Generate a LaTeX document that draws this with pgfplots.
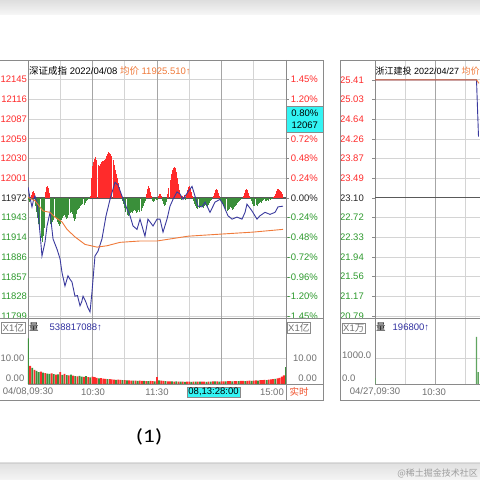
\documentclass[border=0pt]{standalone}
\usepackage{fontspec}
\setmainfont{Liberation Sans}
\newfontfamily\cjk{Noto Sans CJK SC}
\newfontfamily\calib{Carlito}
\usepackage{pgfplots}
\pgfplotsset{compat=1.18}
\usepackage{pgfplotstable}

\definecolor{pred}{HTML}{FF2B2B}
\definecolor{pgreen}{HTML}{2E9A2E}
\definecolor{bgreen}{HTML}{3A8F3A}
\definecolor{pblue}{HTML}{3A3A9E}
\definecolor{porange}{HTML}{F07A3A}
\definecolor{gridl}{HTML}{D4D4D4}
\definecolor{gridd}{HTML}{A6A6A6}
\definecolor{frm}{HTML}{8A8A8A}
\definecolor{cyanbox}{HTML}{33F4F4}
\definecolor{lbl}{HTML}{707070}
\definecolor{vblue}{HTML}{3030A0}
\definecolor{ssred}{HTML}{F0502A}

\newcommand{\fs}{\fontsize{9.5}{10}\selectfont}

% price (Shenzhen component index), minutes from 09:30
\pgfplotstableread[row sep=\\]{
t p\\
0 11988\\ 1.5 11975\\ 3.7 11959\\ 5 11968\\ 6.5 11975\\ 8.4 11966\\ 10 11940\\ 11.5 11915\\ 13 11887\\ 15.8 11907\\
17.7 11931\\ 20.5 11951\\ 23.3 11912\\ 25 11905\\ 27 11897\\ 29.8 11883\\ 31.6 11863\\ 34.4 11843\\ 37.2 11858\\ 39 11853\\
40.9 11849\\ 43.7 11828\\ 46 11829\\ 48.4 11814\\ 50 11820\\ 51.2 11828\\ 54 11819\\ 55.5 11812\\ 57.7 11805\\ 59.5 11834\\
62.3 11887\\ 65.1 11894\\ 68.8 11912\\ 72.6 11946\\ 76.3 11970\\ 80.9 11995\\ 83.7 11991\\ 87.4 11975\\ 92.1 11956\\ 94.9 11946\\
97.7 11931\\ 101.4 11926\\ 104.2 11941\\ 108.8 11916\\ 111.6 11941\\ 116.3 11931\\ 120 11941\\ 122.8 11941\\ 125.6 11922\\ 129.3 11941\\
132.1 11960\\ 134.9 11970\\ 138.6 11981\\ 141.4 11978\\ 144.2 11970\\ 148.8 11981\\ 152.6 11989\\ 155.3 11975\\ 158.1 11960\\ 161.9 11959\\
164.7 11966\\ 169.3 11951\\ 174 11966\\ 178.6 11970\\ 181.4 11963\\ 186 11946\\ 189.8 11941\\ 194.4 11944\\ 199.1 11941\\ 201.9 11951\\
203.7 11963\\ 208.4 11953\\ 213 11941\\ 215.8 11946\\ 220.5 11951\\ 225.1 11948\\ 229.8 11951\\ 232.6 11959\\ 237.2 11960\\
}\priceL

\pgfplotstableread[row sep=\\]{
t p\\
0 11973\\ 6.5 11968\\ 14 11953\\ 20.5 11951\\ 25.1 11944\\ 31.6 11937\\ 36.3 11926\\ 43.7 11915\\ 53 11904\\ 64.2 11900\\
73.5 11902\\ 85.6 11907\\ 104.2 11909\\ 120 11909\\ 148.8 11916\\ 178.6 11919\\ 209.3 11922\\ 237.2 11926\\
}\avgL

% red/green momentum bars
\pgfplotstableread[row sep=\\]{
t v\\
0 -2\\ 1 -4\\ 2 -3\\ 3 3\\ 4 6\\ 5 7\\ 6 5\\ 7 -8\\ 8 -14\\ 9 -20\\ 10 -26\\ 11 -32\\ 12 -40\\ 13 -44\\ 14 -38\\ 15 -30\\ 16 6\\ 17 11\\ 18 12\\ 19 10\\ 20 5\\
21 -26\\ 22 -28\\ 23 -24\\ 24 -22\\ 25 -19\\ 26 -21\\ 27 -24\\ 28 -26\\ 29 -28\\ 30 -26\\ 31 -22\\ 32 -20\\ 33 -18\\ 34 -17\\ 35 -19\\ 36 -21\\ 37 -20\\ 38 -17\\ 39 -15\\ 40 -14\\
41 -16\\ 42 -20\\ 43 -23\\ 44 -21\\ 45 -16\\ 46 -12\\ 47 -11\\ 48 -10\\ 49 -8\\ 50 -7\\ 51 -6\\ 52 -7\\ 53 -5\\ 54 -3\\ 55 -2\\ 56 -1\\ 57 -1\\ 58 2\\
59 20\\ 60 32\\ 61 36\\ 62 39\\ 63 41\\ 64 38\\ 65 33\\ 66 32\\ 67 34\\ 68 36\\ 69 37\\ 70 37\\ 71 38\\ 72 39\\ 73 42\\ 74 44\\ 75 46\\ 76 45\\ 77 44\\ 78 42\\
79 38\\ 80 33\\ 81 28\\ 82 24\\ 83 20\\ 84 15\\ 85 11\\ 86 7\\ 87 3\\
88 -3\\ 89 -6\\ 90 -10\\ 91 -14\\ 92 -17\\ 93 -18\\ 94 -16\\ 95 -15\\ 96 -14\\ 97 -15\\ 98 -13\\ 99 -12\\ 100 -13\\ 101 -15\\ 102 -14\\ 103 -12\\ 104 -14\\ 105 -13\\
106 -10\\ 107 -8\\ 108 -5\\ 109 -3\\ 110 4\\ 111 9\\ 112 12\\ 113 10\\ 114 6\\ 115 2\\ 116 -3\\ 117 -4\\ 118 -3\\ 119 -2\\
120 -2\\ 121 2\\ 122 4\\ 123 4\\ 124 2\\ 125 -3\\ 126 -6\\ 127 -8\\ 128 -7\\ 129 -4\\ 130 4\\ 131 10\\ 132 18\\ 133 24\\ 134 28\\ 135 30\\ 136 31\\ 137 30\\ 138 26\\ 139 20\\
140 14\\ 141 8\\ 142 3\\ 143 -2\\ 144 2\\ 145 3\\ 146 -2\\ 147 4\\ 148 8\\ 149 11\\ 150 12\\ 151 10\\ 152 6\\ 153 2\\ 154 -3\\ 155 -6\\ 156 -8\\ 157 -10\\ 158 -11\\ 159 -10\\
160 -9\\ 161 -8\\ 162 -9\\ 163 -10\\ 164 -8\\ 165 -7\\ 166 -8\\ 167 -9\\ 168 -7\\ 169 -5\\ 170 -3\\ 171 -2\\ 172 2\\ 173 5\\ 174 8\\ 175 9\\ 176 8\\ 177 5\\ 178 2\\ 179 -2\\
180 -4\\ 181 -6\\ 182 -8\\ 183 -10\\ 184 -11\\ 185 -13\\ 186 -12\\ 187 -11\\ 188 -9\\ 189 -10\\ 190 -12\\ 191 -11\\ 192 -9\\ 193 -8\\ 194 -7\\ 195 -5\\ 196 -4\\ 197 -3\\ 198 -2\\ 199 -1\\
200 2\\ 201 5\\ 202 8\\ 203 9\\ 204 8\\ 205 5\\ 206 2\\ 207 -1\\ 208 -3\\ 209 -6\\ 210 -8\\ 211 -8\\ 212 -7\\ 213 -8\\ 214 -6\\ 215 -5\\ 216 -4\\ 217 -5\\ 218 -3\\ 219 -2\\
220 -1\\ 221 -3\\ 222 -3\\ 223 -2\\ 224 -3\\ 225 -2\\ 226 -1\\ 227 -1\\ 228 1\\ 229 2\\ 230 4\\ 231 7\\ 232 9\\ 233 9\\ 234 8\\ 235 7\\ 236 6\\ 237 4\\
}\momL

% volume (x1e8), red / green
\pgfplotstableread[row sep=\\]{
t r g\\
0 0 17.5\\ 2 7.0 0\\ 4 0 6.2\\ 6 5.4 0\\ 8 0 5.0\\ 10 0 4.6\\ 12 4.8 0\\ 14 0 4.4\\ 16 4.2 0\\ 18 0 4.0\\
20 0 3.9\\ 22 4.1 0\\ 24 0 3.8\\ 26 3.6 0\\ 28 0 3.7\\ 30 4.6 0\\ 32 0 3.5\\ 34 3.9 0\\ 36 0 3.4\\ 38 3.3 0\\
40 0 3.6\\ 42 3.2 0\\ 44 0 3.0\\ 46 2.9 0\\ 48 0 3.1\\ 50 0 2.8\\ 52 2.7 0\\ 54 0 3.0\\ 56 2.6 0\\ 58 0 2.5\\
60 2.8 0\\ 62 2.6 0\\ 64 2.4 0\\ 66 0 2.2\\ 68 2.3 0\\ 70 2.1 0\\ 72 2.0 0\\ 74 0 1.9\\ 76 1.9 0\\ 78 1.8 0\\
80 1.7 0\\ 82 0 1.6\\ 84 1.7 0\\ 86 1.6 0\\ 88 0 1.5\\ 90 1.5 0\\ 92 0 1.4\\ 94 1.4 0\\ 96 1.3 0\\ 98 0 1.3\\
100 1.3 0\\ 102 0 1.2\\ 104 1.3 0\\ 106 1.2 0\\ 108 0 1.2\\ 110 1.1 0\\ 112 0 1.1\\ 114 1.2 0\\ 116 1.1 0\\ 118 0 1.0\\
120 2.6 0\\ 122 0 1.4\\ 124 1.3 0\\ 126 1.2 0\\ 128 0 1.1\\ 130 1.0 0\\ 132 1.0 0\\ 134 0 1.0\\ 136 0.9 0\\ 138 0 1.0\\
140 0.9 0\\ 142 0 0.9\\ 144 0.9 0\\ 146 0 0.8\\ 148 0.9 0\\ 150 0.9 0\\ 152 0 0.8\\ 154 0.9 0\\ 156 0 0.9\\ 158 0.9 0\\
160 0 0.9\\ 162 0.9 0\\ 164 0.9 0\\ 166 0 0.8\\ 168 0.9 0\\ 170 0 0.9\\ 172 1.0 0\\ 174 0 1.0\\ 176 1.0 0\\ 178 0 0.9\\
180 1.0 0\\ 182 1.0 0\\ 184 0 1.0\\ 186 1.1 0\\ 188 1.1 0\\ 190 0 1.0\\ 192 1.1 0\\ 194 1.1 0\\ 196 0 1.1\\ 198 1.2 0\\
200 1.2 0\\ 202 0 1.1\\ 204 1.2 0\\ 206 1.3 0\\ 208 0 1.2\\ 210 1.3 0\\ 212 1.4 0\\ 214 0 1.3\\ 216 1.5 0\\ 218 1.5 0\\
220 1.6 0\\ 222 0 1.5\\ 224 1.7 0\\ 226 1.8 0\\ 228 1.9 0\\ 230 0 2.0\\ 232 2.2 0\\ 234 2.4 0\\ 236 2.8 0\\ 238 3.3 0\\
240 0 6.5\\
}\volL

\pgfplotstableread[row sep=\\]{
t p\\
0 25.41\\ 101.5 25.41\\ 103.5 24.30\\
}\priceR
\pgfplotstableread[row sep=\\]{
t p\\
0 25.41\\ 101.5 25.41\\ 104 25.34\\
}\avgR
\pgfplotstableread[row sep=\\]{
t v\\
0 230\\ 101.5 1810\\ 103.3 460\\
}\volR

\pgfplotsset{
  base/.style={scale only axis, anchor=south west, xmin=0, xmax=240,
    axis line style={draw=frm, line width=0.7pt},
    ticklabel style={font=\fs},
    x tick style={draw=none},
    xticklabels={}, scaled ticks=false,
  },
  vgrid/.style={xtick={30,90,150,210}, xmajorgrids,
    major x grid style={draw=gridl, line width=0.7pt},
    extra x ticks={60,120,180}, extra x tick labels={},
    extra x tick style={major x grid style={draw=gridd, line width=0.9pt}, major grid style={draw=gridd, line width=0.9pt}},
  },
  hid/.style={scale only axis, anchor=south west, xmin=0, xmax=240, hide axis},
}

\begin{document}
\begin{tikzpicture}
\useasboundingbox (0pt,0pt) rectangle (480pt,480pt);
\fill[white] (0pt,0pt) rectangle (480pt,480pt);
% top and bottom bands
\shade[top color=black!13, bottom color=black!3] (0pt,465pt) rectangle (480pt,480pt);
\shade[top color=black!12, bottom color=black!4] (0pt,0pt) rectangle (480pt,17pt);
\draw[black!18, line width=0.8pt] (0pt,17pt) -- (480pt,17pt);

% ================= LEFT CHART =================
% main panel grid + left labels
\begin{axis}[base, vgrid, at={(28pt,162pt)}, width=258pt, height=258pt,
  ymin=11796.1, ymax=12174.3,
  ytick={11798.4,11827.3,11856.3,11885.2,11914.1,11943.1,12000.9,12029.9,12058.8,12087.7,12116.7,12145.6},
  yticklabels={\color{pgreen}11799,\color{pgreen}11828,\color{pgreen}11857,\color{pgreen}11886,\color{pgreen}11914,\color{pgreen}11943,\color{pred}12001,\color{pred}12030,\color{pred}12059,\color{pred}12087,\color{pred}12116,\color{pred}12145},
  ymajorgrids, major y grid style={draw=gridl, line width=0.7pt},
  extra y ticks={11972}, extra y tick labels={\color{black!85}11972},
  extra y tick style={major y grid style={draw=black!65, line width=1.1pt}, major grid style={draw=black!65, line width=1.1pt}},
  y tick style={draw=none},
  yticklabel style={anchor=east, inner sep=0pt, xshift=-0.8pt},
]
\end{axis}
% red/green bars
\begin{axis}[hid, at={(28pt,162pt)}, width=258pt, height=258pt, ymin=-120, ymax=138]
\addplot[ycomb, draw=pred, line width=0.75pt, restrict y to domain=0.5:500] table[x=t, y=v] {\momL};
\addplot[ycomb, draw=bgreen, line width=0.75pt, restrict y to domain=-500:-0.5] table[x=t, y=v] {\momL};
\end{axis}
% price and average lines
\begin{axis}[hid, at={(28pt,162pt)}, width=258pt, height=258pt, ymin=11796.1, ymax=12174.3]
\addplot[pblue, line width=0.9pt] table[x=t, y=p] {\priceL};
\addplot[porange, line width=0.9pt] table[x=t, y=p] {\avgL};
\end{axis}
% right percent labels
\begin{axis}[scale only axis, anchor=south west, at={(28pt,162pt)}, width=258pt, height=258pt,
  xmin=0, xmax=240, ymin=11796.1, ymax=12174.3, scaled ticks=false,
  axis line style={draw=none}, xtick=\empty,
  ytick={11798.4,11827.3,11856.3,11885.2,11914.1,11943.1,11972,12000.9,12029.9,12058.8,12116.7,12145.6},
  yticklabels={\color{pgreen}-1.45\%,\color{pgreen}-1.20\%,\color{pgreen}-0.96\%,\color{pgreen}-0.72\%,\color{pgreen}-0.48\%,\color{pgreen}-0.24\%,\color{black!85}0.00\%,\color{pred}0.24\%,\color{pred}0.48\%,\color{pred}0.72\%,\color{pred}1.20\%,\color{pred}1.45\%},
  ytick pos=right, yticklabel pos=right, tick align=outside, major tick length=3pt,
  y tick style={draw=frm, line width=0.6pt},
  yticklabel style={anchor=east, inner sep=0pt, xshift=29pt, font=\fs},
]
\end{axis}
% volume panel
\begin{axis}[base, vgrid, at={(28pt,96pt)}, width=258pt, height=66pt,
  ymin=0, ymax=25.38, ytick={10}, yticklabels={}, y tick style={draw=none},
  ymajorgrids, major y grid style={draw=gridl, line width=0.7pt},
]
\addplot[ybar, bar width=1.8pt, bar shift=0pt, fill=pred, draw=none] table[x=t, y=r] {\volL};
\addplot[ybar, bar width=1.8pt, bar shift=0pt, fill=bgreen, draw=none] table[x=t, y=g] {\volL};
\end{axis}

% frames
\draw[frm, line width=0.7pt] (0pt,420pt) -- (323pt,420pt) -- (323pt,80pt) -- (0pt,80pt);
\draw[frm, line width=0.8pt] (0pt,162pt) -- (323pt,162pt);
\draw[frm, line width=0.7pt] (28pt,96pt) -- (323pt,96pt);
\draw[frm, line width=0.7pt] (286pt,420pt) -- (286pt,80pt);

% titles
\node[anchor=base west, font=\fs, inner sep=0pt] at (29pt,405pt) {{\cjk 深证成指} 2022/04/08 \textcolor{porange}{{\cjk 均价} 11925.510↑}};
\node[anchor=base west, font=\fs, inner sep=0pt] at (29pt,149pt) {{\cjk 量}\hspace{11pt}\textcolor{vblue}{538817088↑}};
% cyan price box
\node[fill=cyanbox, draw=frm, line width=0.6pt, anchor=north west, minimum width=37pt, minimum height=26pt, inner sep=0pt, align=center, font=\fs] at (286pt,374pt) {0.80\%\\[1.5pt]12067};
% volume labels
\node[anchor=east, draw=frm, inner sep=1pt, font=\fs, text=lbl] at (25pt,152pt) {X1{\cjk 亿}};
\node[anchor=east, font=\fs, text=lbl, inner sep=0pt] at (24.5pt,122pt) {10.00};
\node[anchor=east, font=\fs, text=lbl, inner sep=0pt] at (24.5pt,102pt) {0.00};
\node[anchor=west, draw=frm, inner sep=1pt, font=\fs, text=lbl] at (287pt,152pt) {X1{\cjk 亿}};
\node[anchor=east, font=\fs, text=lbl, inner sep=0pt] at (317pt,122pt) {10.00};
\node[anchor=east, font=\fs, text=lbl, inner sep=0pt] at (317pt,102pt) {0.00};
% time row
\node[font=\fs, text=lbl, inner sep=0pt] at (28pt,88pt) {04/08,09:30};
\node[font=\fs, text=lbl, inner sep=0pt] at (93pt,88pt) {10:30};
\node[font=\fs, text=lbl, inner sep=0pt] at (157pt,88pt) {11:30};
\node[fill=cyanbox, draw=frm, line width=0.5pt, anchor=west, inner sep=1.2pt, font=\fs] at (187pt,88pt) {08,13:28:00};
\node[anchor=east, font=\fs, text=lbl, inner sep=0pt] at (284pt,88pt) {15:00};
\node[font=\fs\cjk, text=ssred, inner sep=0pt] at (299pt,88pt) {实时};

% ================= RIGHT CHART =================
\begin{axis}[base, at={(375pt,162pt)}, width=240pt, height=258pt,
  xtick={30,90,150,210}, xmajorgrids,
  major x grid style={draw=gridl, line width=0.7pt},
  extra x ticks={60,120,180}, extra x tick labels={},
  extra x tick style={major x grid style={draw=gridd, line width=0.9pt}, major grid style={draw=gridd, line width=0.9pt}},
  ymin=20.751, ymax=25.798,
  ytick={20.79,21.175,21.56,21.945,22.33,22.715,23.485,23.87,24.255,24.64,25.025,25.41},
  yticklabels={\color{pgreen}20.79,\color{pgreen}21.17,\color{pgreen}21.56,\color{pgreen}21.94,\color{pgreen}22.33,\color{pgreen}22.72,\color{pred}23.49,\color{pred}23.87,\color{pred}24.26,\color{pred}24.64,\color{pred}25.03,\color{pred}25.41},
  ymajorgrids, major y grid style={draw=gridl, line width=0.7pt},
  extra y ticks={23.10}, extra y tick labels={\color{black!85}23.10},
  extra y tick style={major y grid style={draw=black!65, line width=1.1pt}, major grid style={draw=black!65, line width=1.1pt}},
  ytick pos=left, tick align=outside, major tick length=3pt,
  y tick style={draw=frm, line width=0.6pt},
  yticklabel style={anchor=east, inner sep=0pt, xshift=-8pt},
]
\end{axis}
\begin{axis}[hid, at={(375pt,162pt)}, width=240pt, height=258pt, ymin=20.751, ymax=25.798]
\addplot[pblue, line width=0.9pt] table[x=t, y=p] {\priceR};
\addplot[porange, line width=0.9pt] table[x=t, y=p] {\avgR};
\end{axis}
\begin{axis}[base, vgrid, at={(375pt,96pt)}, width=240pt, height=66pt,
  ymin=0, ymax=2538, ytick={1000}, yticklabels={}, y tick style={draw=none},
  ymajorgrids, major y grid style={draw=gridl, line width=0.7pt},
]
\addplot[ybar, bar width=1.2pt, bar shift=0pt, fill=bgreen!80, draw=none] table[x=t, y=v] {\volR};
\end{axis}
\draw[frm, line width=0.7pt] (480pt,420pt) -- (340pt,420pt) -- (340pt,80pt) -- (480pt,80pt);
\draw[frm, line width=0.8pt] (340pt,162pt) -- (480pt,162pt);
\node[anchor=base west, font=\fontsize{9}{10}\selectfont, inner sep=0pt] at (375.5pt,405pt) {{\cjk 浙江建投} 2022/04/27 \textcolor{porange}{{\cjk 均价}}};
\node[anchor=base west, font=\fs, inner sep=0pt] at (376pt,149pt) {{\cjk 量}\hspace{7pt}\textcolor{vblue}{196800↑}};
\node[anchor=west, draw=frm, inner sep=1pt, font=\fs, text=lbl] at (342pt,152pt) {X1{\cjk 万}};
\node[anchor=west, font=\fs, text=lbl, inner sep=0pt] at (342pt,125pt) {1000.0};
\node[anchor=west, font=\fs, text=lbl, inner sep=0pt] at (342pt,102pt) {0.0};
\node[font=\fs, text=lbl, inner sep=0pt] at (375pt,88pt) {04/27,09:30};
\node[font=\fs, text=lbl, inner sep=0pt] at (434pt,88pt) {10:30};

% caption and watermark
\node[font=\calib\fontsize{19}{20}\selectfont, inner sep=0pt] at (149pt,43pt) {\scalebox{1.25}[1]{(1)}};
\node[anchor=east, font=\cjk\fontsize{9}{10}\selectfont, text=black!38, inner sep=0pt] at (478pt,7pt) {@稀土掘金技术社区};
\end{tikzpicture}
\end{document}
